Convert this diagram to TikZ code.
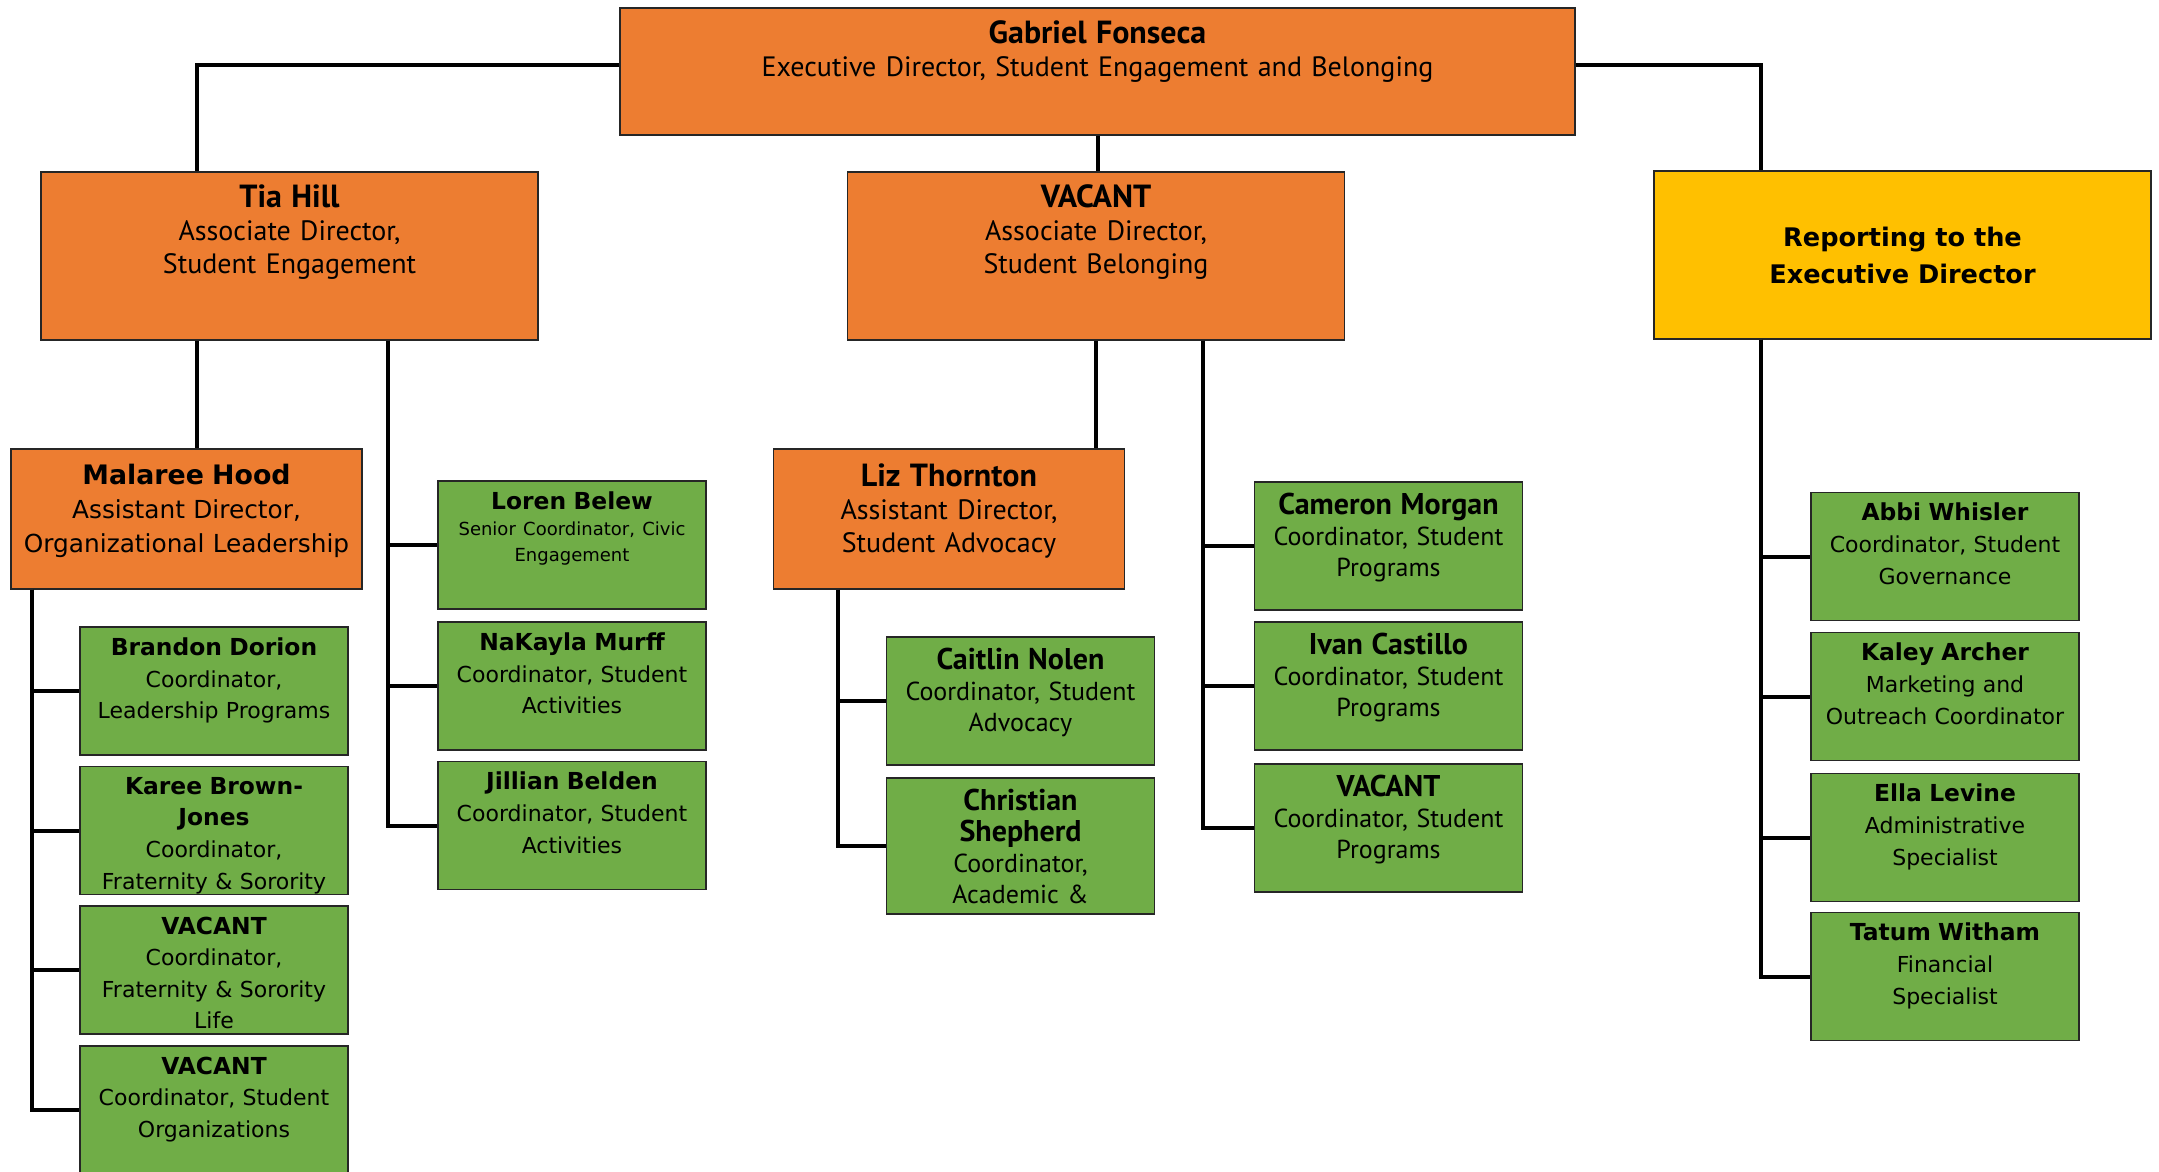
\documentclass[tikz,border=0pt]{standalone}
\usepackage{fontspec}
\setmainfont{PT Sans}
\newfontfamily\widefont{DejaVu Sans}
\usetikzlibrary{calc}

\definecolor{orgorange}{HTML}{ED7D31}
\definecolor{staffgreen}{HTML}{70AD47}
\definecolor{repyellow}{HTML}{FFC000}

\newcommand{\leadfont}{\fontsize{14}{16.6}\selectfont}
\newcommand{\wideleadfont}{\widefont\fontsize{12.4}{17}\selectfont}
\newcommand{\stafffont}{\fontsize{13}{15.5}\selectfont}
\newcommand{\widestafffont}{\widefont\fontsize{11}{15.8}\selectfont}
% bold name line, size given in pt
\newcommand{\who}[2][11.7]{{\fontsize{#1}{12}\selectfont\bfseries #2}}

\begin{document}
\begin{tikzpicture}[x=.5pt, y=-.5pt,
  textdrop/.store in=\boxdrop, textdrop=5pt,
  box/.style={draw=black!85, line width=.7pt, inner sep=0pt},
  lead/.style={box, fill=orgorange, minimum width=248.5pt, minimum height=84pt, textdrop=6pt},
  asst/.style={box, fill=orgorange, minimum width=175.5pt, minimum height=70pt, textdrop=7pt},
  staff/.style={box, fill=staffgreen, minimum width=134pt, minimum height=64pt, textdrop=5pt},
  boxtext/.style 2 args={path picture={
    \node[anchor=north, inner sep=0pt, minimum width=0pt, minimum height=0pt,
      text width=470pt, align=center, font=#1]
      at ([yshift=-\boxdrop]path picture bounding box.north) {#2};}},
  link/.style={line width=2pt}]
\clip (0,0) rectangle (2159,1172);

% top of the chart
\node[lead, minimum width=477.5pt, minimum height=63.5pt,
  boxtext={\leadfont}{\who[16]{Gabriel Fonseca}\\Executive Director, Student Engagement and Belonging}] (gf) at (1097.5,71.5) {};
\node[lead, boxtext={\leadfont}{\who[16]{Tia Hill}\\Associate Director,\\Student Engagement}] (th) at (289.5,256) {};
\node[lead, boxtext={\leadfont}{\who[16]{VACANT}\\Associate Director,\\Student Belonging}] (va) at (1096,256) {};
\node[box, fill=repyellow, minimum width=248.5pt, minimum height=84pt, align=center,
  font=\widefont\bfseries\fontsize{12.8}{18.5}\selectfont] (rep) at (1902.5,255) {Reporting to the\\Executive Director};

% assistant directors
\node[asst, boxtext={\wideleadfont}{\who[13.4]{Malaree Hood}\\Assistant Director,\\Organizational Leadership}] (mh) at (186.5,519) {};
\node[asst, boxtext={\leadfont}{\who[16]{Liz Thornton}\\Assistant Director,\\Student Advocacy}] (li) at (949,519) {};

% student engagement
\node[staff, boxtext={\widestafffont}{\who{Loren Belew}\\{\fontsize{9}{13}\selectfont Senior Coordinator, Civic\\Engagement\endgraf}}] (lb) at (572,545) {};
\node[staff, boxtext={\widestafffont}{\who{NaKayla Murff}\\Coordinator, Student\\Activities}] (nm) at (572,686) {};
\node[staff, boxtext={\widestafffont}{\who{Jillian Belden}\\Coordinator, Student\\Activities}] (jb) at (572,825.5) {};
\node[staff, boxtext={\widestafffont}{\who{Brandon Dorion}\\Coordinator,\\Leadership Programs}] (bd) at (214,691) {};
\node[staff, boxtext={\widestafffont}{\who{Karee Brown-}\\\who{Jones}\\Coordinator,\\Fraternity \& Sorority}] (kb) at (214,830.5) {};
\node[staff, boxtext={\widestafffont}{\who{VACANT}\\Coordinator,\\Fraternity \& Sorority\\Life}] (vf) at (214,970) {};
\node[staff, boxtext={\widestafffont}{\who{VACANT}\\Coordinator, Student\\Organizations}] (vo) at (214,1110) {};

% student belonging
\node[staff, boxtext={\stafffont}{\who[15]{Caitlin Nolen}\\Coordinator, Student\\Advocacy}] (cn) at (1020.5,701) {};
\node[staff, minimum height=68pt, boxtext={\stafffont}{\who[15]{Christian}\\\who[15]{Shepherd}\\Coordinator,\\Academic \&}] (cs) at (1020.5,846) {};
\node[staff, boxtext={\stafffont}{\who[15]{Cameron Morgan}\\Coordinator, Student\\Programs}] (cm) at (1388.5,546) {};
\node[staff, boxtext={\stafffont}{\who[15]{Ivan Castillo}\\Coordinator, Student\\Programs}] (ic) at (1388.5,686) {};
\node[staff, boxtext={\stafffont}{\who[15]{VACANT}\\Coordinator, Student\\Programs}] (vp) at (1388.5,828) {};

% reporting to the executive director
\node[staff, boxtext={\widestafffont}{\who{Abbi Whisler}\\Coordinator, Student\\Governance}] (aw) at (1945,556.5) {};
\node[staff, boxtext={\widestafffont}{\who{Kaley Archer}\\Marketing and\\Outreach Coordinator}] (ka) at (1945,696.5) {};
\node[staff, boxtext={\widestafffont}{\who{Ella Levine}\\Administrative\\Specialist}] (el) at (1945,837.5) {};
\node[staff, boxtext={\widestafffont}{\who{Tatum Witham}\\Financial\\Specialist}] (tw) at (1945,976.5) {};

% reporting lines
\draw[link] ([yshift=3.4pt]gf.west) -| ([xshift=-46.25pt]th.north);
\draw[link] ([yshift=3.4pt]gf.east) -| ([xshift=-70.75pt]rep.north);
\draw[link] (gf.south) -- (gf.south |- va.north);
\draw[link] ([xshift=-46.25pt]th.south) -- ([xshift=-46.25pt]th.south |- mh.north);
\draw[link] (va.south) -- (va.south |- li.north);
\foreach \p in {lb, nm, jb}
 \draw[link] ([xshift=49.25pt]th.south) |- (\p.west);
\foreach \p in {bd, kb, vf, vo}
 \draw[link] ([xshift=11pt]mh.south west) |- (\p.west);
\foreach \p in {cm, ic, vp}
 \draw[link] ([xshift=53.5pt]va.south) |- (\p.west);
\foreach \p in {cn, cs}
 \draw[link] ([xshift=32.5pt]li.south west) |- (\p.west);
\foreach \p in {aw, ka, el, tw}
 \draw[link] ([xshift=-70.75pt]rep.south) |- (\p.west);

\end{tikzpicture}
\end{document}
